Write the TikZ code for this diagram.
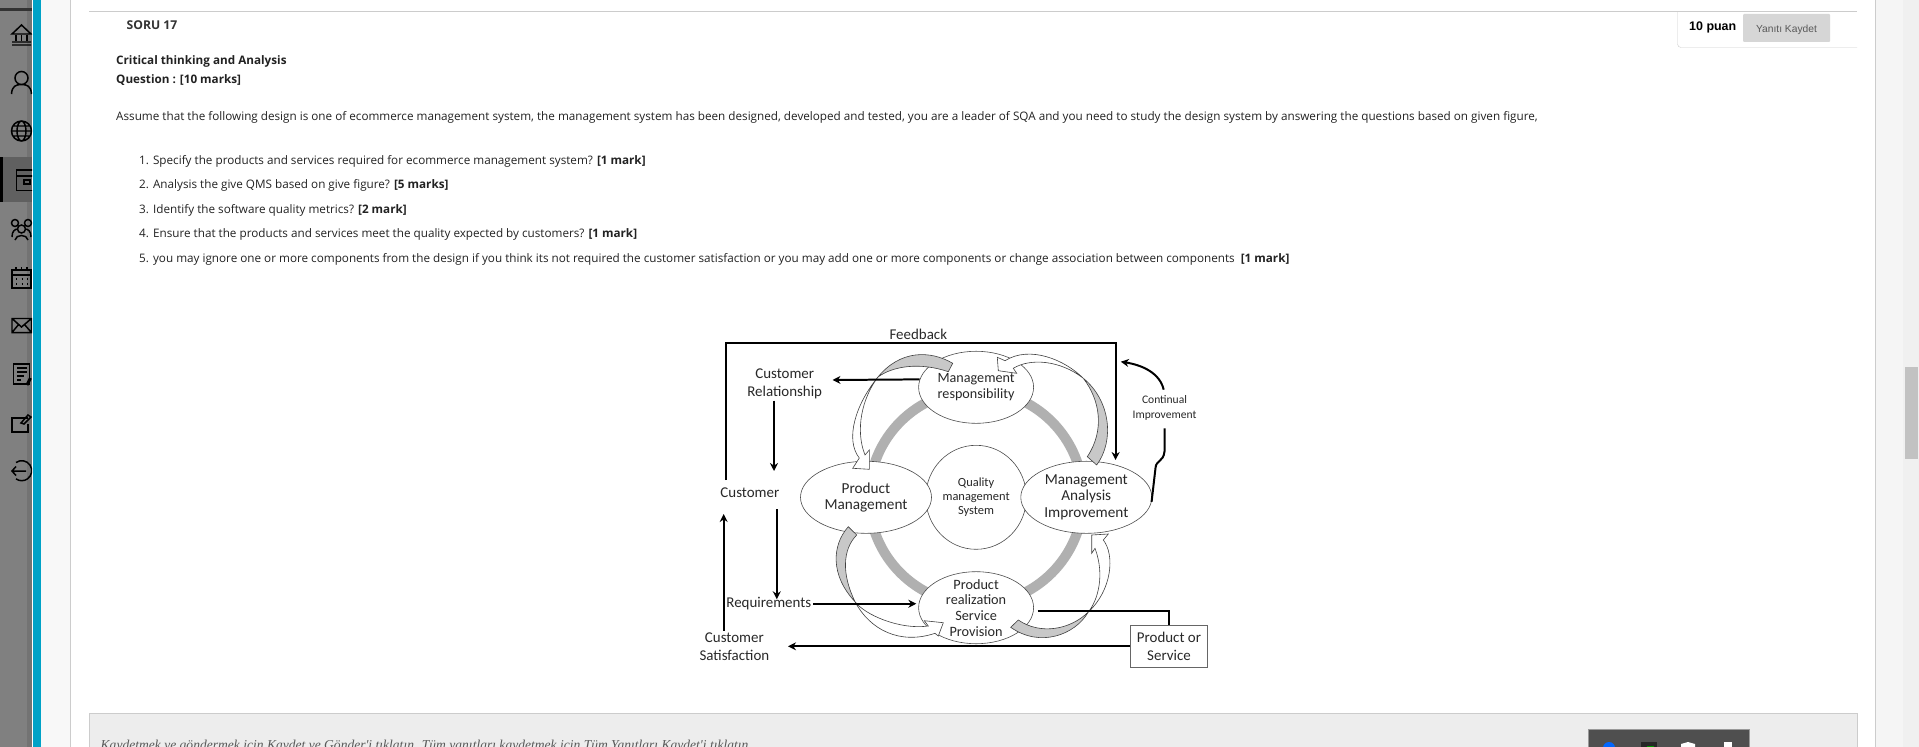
\documentclass[tikz,border=0pt]{standalone}
\usepackage{fontspec}
\setmainfont{Open Sans}
\newfontfamily\diagfont{Carlito}
\newfontfamily\arialfont{Liberation Sans}
\newfontfamily\seriffont{Liberation Serif}
\usetikzlibrary{arrows.meta,positioning,shapes.geometric}
\definecolor{sidebar}{RGB}{128,128,128}
\definecolor{sideact}{RGB}{96,96,96}
\definecolor{teal}{RGB}{0,162,199}
\definecolor{gutter}{RGB}{248,248,248}
\definecolor{edge}{RGB}{204,204,204}
\definecolor{ring}{RGB}{176,176,176}
\definecolor{blockgray}{RGB}{200,200,200}
\definecolor{maintext}{RGB}{34,34,34}
\definecolor{diagtext}{RGB}{40,40,40}
\tikzset{
  page_text/.style={anchor=west, inner sep=0, text=maintext, font=\fontsize{11.75}{14}\selectfont},
  ellipse_base/.style={shape=ellipse, draw=black!70, line width=0.6pt, fill=white, inner sep=0},
  diag_label/.style={align=center, inner sep=2pt, text=diagtext, font=\diagfont\fontsize{15}{18}\selectfont},
  flow_arrow/.style={draw=black, line width=2pt, -{Stealth[length=8pt,width=8pt]}},
  flow_line/.style={draw=black, line width=2pt},
  block_gray/.style={draw=black!75, line width=0.6pt, fill=blockgray},
  block_white/.style={draw=black!75, line width=0.6pt, fill=white},
  side_icon/.style={draw=black, line width=1.5pt, fill=none}
}
\begin{document}
\begin{tikzpicture}[x=1bp,y=-1bp]
\useasboundingbox (0,0) rectangle (1919,747);
\clip (0,0) rectangle (1919,747);
\fill[white] (0,0) rectangle (1919,747);
% sidebar
\fill[sidebar] (0,0) rectangle (32,747);
\fill[black!55] (27,0) rectangle (32,747);
\fill[black!80] (0,8) rectangle (32,11.5);
\fill[sideact] (0,157) rectangle (32,202);
\fill[black] (0,157) rectangle (3,202);
\fill[white] (32,0) rectangle (33,747);
\fill[teal] (33,0) rectangle (40.5,747);
\fill[gutter] (40.5,0) rectangle (70,747);
\draw[edge] (70.5,0) -- (70.5,747);
\begin{scope}[side_icon]
\clip (0,0) rectangle (32,747);
\draw (12,34) -- (21.5,25) -- (31,34) -- cycle (12,45) -- (31,45) (12,42) -- (31,42);
\foreach \x in {16,21.5,27}{ \draw (\x,35) -- (\x,41); }
\draw (21.5,78) circle (6.5) (11.5,94) .. controls (12,86) and (16,84.5) .. (21.5,84.5) .. controls (27,84.5) and (31,86) .. (31.5,94);
\draw (21.5,131) circle (10) (21.5,131) ellipse (4.5 and 10) (11.5,131) -- (31.5,131) (13,126) -- (30,126) (13,136) -- (30,136);
\draw (16.5,170) rectangle (36,190.5) (16.5,176) -- (36,176) (24,180) rectangle (30,184);
\draw (15,223) circle (3.5) (28,223) circle (3.5) (21.5,229) circle (4) (12,237) .. controls (12,231) and (15,229) .. (18,229) (31,237) .. controls (31,231) and (28,229) .. (25,229) (15,240) .. controls (16,234) and (27,234) .. (28,240);
\draw (12,270) rectangle (31,288) (12,275) -- (31,275);
\foreach \x in {16,21.5,27}{ \draw[line width=1.6pt] (\x,267) -- (\x,270) (\x,279) -- (\x+1,279) (\x,284) -- (\x+1,284); }
\draw (12,318.5) rectangle (31.5,332.5) (12,318.5) -- (21.5,327) -- (31.5,318.5) (12,332.5) -- (19,324) (31.5,332.5) -- (24,324);
\draw (13.5,364) rectangle (29.5,384) (17,368) -- (27,368) (17,372) -- (27,372) (17,376) -- (24,376) (17,380) -- (21,380);
\draw[line width=3pt] (27,385) -- (30.5,378);
\draw (28,418) -- (12,418) -- (12,432) -- (28,432) -- (28,424);
\draw (21,423) -- (28,415) -- (31,417) -- (24,424) -- cycle;
\draw (16,462.5) arc[start angle=-125, end angle=125, radius=10];
\draw (12,471) -- (26,471) (16,466.5) -- (12,471) -- (16,475.5);
\end{scope}
% page frame
\fill[black!4] (1875,0) rectangle (1903,747);
\fill[black!6] (1903,0) rectangle (1919,747);
\draw[edge] (1875,0) -- (1875,747);
\fill[black!24] (1904.5,367) rectangle (1918,459);
\draw[edge] (89,11.5) -- (1857,11.5);
\draw[edge] (1677.5,11.5) -- (1677.5,44) arc[start angle=180, end angle=90, radius=3.5] -- (1857,47.5);
\fill[black!16,rounded corners=1pt] (1743,14) rectangle (1830,42);
\node[anchor=west,inner sep=0,font=\arialfont\bfseries\fontsize{12.5}{14}\selectfont] (puan) at (1689,27.5) {10 puan};
\node[inner sep=0,text=black!65,font=\arialfont\fontsize{10.3}{12}\selectfont] (kaydet) at (1786.5,29.5) {Yanıtı Kaydet};
% question text
\node[page_text,text=black!80,font=\bfseries\fontsize{12.2}{14}\selectfont] (soru) at (126.5,25.5) {SORU 17};
\node[page_text,font=\bfseries\fontsize{11.75}{14}\selectfont] (title) at (116,61) {Critical thinking and Analysis};
\node[page_text,font=\bfseries\fontsize{11.75}{14}\selectfont] (marks) at (116,80) {Question : [10 marks]};
\node[page_text] (intro) at (116,117) {Assume that the following design is one of ecommerce management system, the management system has been designed, developed and tested, you are a leader of SQA and you need to study the design system by answering the questions based on given figure,};
\foreach [count=\i from 0] \txt in {
{1. Specify the products and services required for ecommerce management system? \textbf{[1 mark]}},
{2. Analysis the give QMS based on give figure? \textbf{[5 marks]}},
{3. Identify the software quality metrics? \textbf{[2 mark]}},
{4. Ensure that the products and services meet the quality expected by customers? \textbf{[1 mark]}},
{5. you may ignore one or more components from the design if you think its not required the customer satisfaction or you may add one or more components or change association between components\ \ \textbf{[1 mark]}}}{
\pgfmathsetmacro{\yy}{161+24.5*\i}
\node[page_text] (q\i) at (139,\yy) {\txt};
}
% ring and ellipses
\draw[ring,line width=10pt] (976.1,497.3) circle (107);
\node[ellipse_base,minimum width=101pt,minimum height=104.4pt] (qms) at (976.1,497.3) {};
\node[ellipse_base,minimum width=115.4pt,minimum height=72.3pt] (mgmtresp) at (976.1,387.3) {};
\node[ellipse_base,minimum width=131.5pt,minimum height=72.3pt] (prodmgmt) at (866,497.3) {};
\node[ellipse_base,minimum width=131.5pt,minimum height=72.3pt] (mgmtan) at (1086.3,497.3) {};
\node[ellipse_base,minimum width=115.4pt,minimum height=72.3pt] (prodreal) at (976.1,607.7) {};
% block arrows
\draw[block_gray] (952.7,363.3) .. controls (930,350) and (900,350) .. (878,377) .. controls (893,366) and (920,362) .. (948.3,371.7) -- cycle;
\draw[block_white] (878,377) .. controls (855,405) and (845,440) .. (859.3,458) -- (852.7,468.3) -- (869.3,469.3) -- (869.3,450) -- (865,455) .. controls (855,430) and (862,398) .. (878,377);
\draw[block_white] (1083.3,378.3) .. controls (1065,360) and (1030,345) .. (1005,360.7) -- (997.3,357.3) -- (998.3,370.7) -- (1016.7,373.3) -- (1013.3,368.3) .. controls (1030,358) and (1060,360) .. (1083.3,378.3);
\draw[block_gray] (1083.3,378.3) .. controls (1110,400) and (1115,440) .. (1096.7,465) -- (1087.3,456.7) .. controls (1105,430) and (1100,400) .. (1083.3,378.3);
\draw[block_gray] (848.3,526.7) .. controls (832,545) and (830,575) .. (855,601.7) .. controls (842,575) and (842,550) .. (856.7,535) -- cycle;
\draw[block_white] (855,601.7) .. controls (865,615) and (900,630) .. (928.3,626) -- (924.3,620.7) -- (943.3,622.7) -- (938.3,636) -- (935,633.3) .. controls (900,645) and (870,630) .. (855,601.7);
\draw[block_gray] (1010.7,627.3) .. controls (1040,648) and (1075,635) .. (1088.3,612) .. controls (1070,630) and (1040,635) .. (1018.3,620) -- cycle;
\draw[block_white] (1088.3,612) .. controls (1098,600) and (1105,575) .. (1095,548.3) -- (1091.7,553.3) -- (1091.7,535) -- (1108.3,534) -- (1103.3,540) .. controls (1115,555) and (1112,590) .. (1088.3,612);
% labels
\node[diag_label] (feedback) at (918.3,334) {Feedback};
\node[diag_label] (custrel) at (784.7,383.5) {Customer\\Relationship};
\node[diag_label] (customer) at (749.9,492.3) {Customer};
\node[diag_label] (requirements) at (768.8,603.7) {Requirements};
\node[diag_label] (custsat) at (734.4,647) {Customer\\Satisfaction};
\node[diag_label,font=\diagfont\fontsize{15.3}{16.5}\selectfont] (prodmgmt_txt) at (prodmgmt) {Product\\Management};
\node[diag_label,font=\diagfont\fontsize{15.3}{16.6}\selectfont] (mgmtan_txt) at (mgmtan) {Management\\Analysis\\Improvement};
\node[diag_label,font=\diagfont\fontsize{14.2}{16}\selectfont] (mgmtresp_txt) at (mgmtresp) {Management\\responsibility};
\node[diag_label,font=\diagfont\fontsize{14.3}{15.7}\selectfont] (prodreal_txt) at (prodreal) {Product\\realization\\Service\\Provision};
\node[diag_label,font=\diagfont\fontsize{12.5}{14}\selectfont] (qms_txt) at (qms) {Quality\\management\\System};
\node[diag_label,font=\diagfont\fontsize{11.6}{14.6}\selectfont] (contimp) at (1164.5,408) {Continual\\Improvement};
\node[draw=black!60,line width=0.6pt,fill=white,minimum width=77.3pt,minimum height=42.2pt,inner sep=0] (prodbox) at (1169,646.3) {};
\node[diag_label] (prodbox_txt) at (prodbox) {Product or\\Service};
% connectors
\coordinate (cr_tip) at (832.5,380);
\coordinate (cust_in) at (774,471);
\coordinate (req_in) at (776.8,599.3);
\coordinate (cust_up) at (723.7,514);
\coordinate (sat_in) at (788,646.3);
\coordinate (fb_l) at (725.5,343);
\coordinate (fb_r) at (1115.6,343);
\coordinate (cont_in) at (1120.8,361.7);
\draw[flow_arrow] (mgmtresp.172.6) -- (cr_tip);
\draw[flow_arrow] (custrel.south -| cust_in) -- (cust_in);
\draw[flow_arrow,shorten <=10pt] (customer.south -| req_in) -- (req_in);
\draw[flow_arrow] (custsat.north -| cust_up) -- (cust_up);
\draw[flow_arrow,shorten >=2pt] (requirements.east) -- (requirements.east -| prodreal.west);
\draw[flow_line,shorten <=4pt] (prodreal.-3.2) -| (prodbox.north);
\draw[flow_arrow] (prodbox.west) -- (sat_in);
\draw[flow_arrow,shorten <=5pt,shorten >=1pt] (customer.north -| fb_l) -- (fb_l) -- (fb_r) -- (fb_r |- mgmtan.north);
\draw[flow_arrow,shorten <=4pt] (contimp.north) .. controls (1160,373) and (1142,365) .. (cont_in);
\draw[flow_line] (contimp.south) ++(0,6) -- ++(0,23) .. controls (1163.5,462) and (1156,460) .. (1155.5,468) -- (mgmtan.-4);
% bottom panel
\fill[black!7] (89,713) rectangle (1857,747);
\draw[edge] (89,747) -- (89,713) -- (1857,713) -- (1857,747);
\node[anchor=west,inner sep=0,text=black!65,font=\seriffont\itshape\fontsize{13.6}{16}\selectfont] (savehint) at (100.5,746.5) {Kaydetmek ve göndermek için Kaydet ve Gönder'i tıklatın. Tüm yanıtları kaydetmek için Tüm Yanıtları Kaydet'i tıklatın.};
% toolbar
\draw[black!40,fill=black!69] (1588.3,729.3) rectangle (1749.3,750);
\fill[blue!60!cyan] (1609,748) circle (6);
\fill[black!85] (1641,742) rectangle (1657,750);
\fill[green!60!black] (1647,746) rectangle (1654,750);
\fill[white] (1681,744) -- (1688,742) -- (1695,744) -- (1695,750) -- (1681,750) -- cycle;
\fill[white] (1724,742) rectangle (1732,750);
\end{tikzpicture}
\end{document}
